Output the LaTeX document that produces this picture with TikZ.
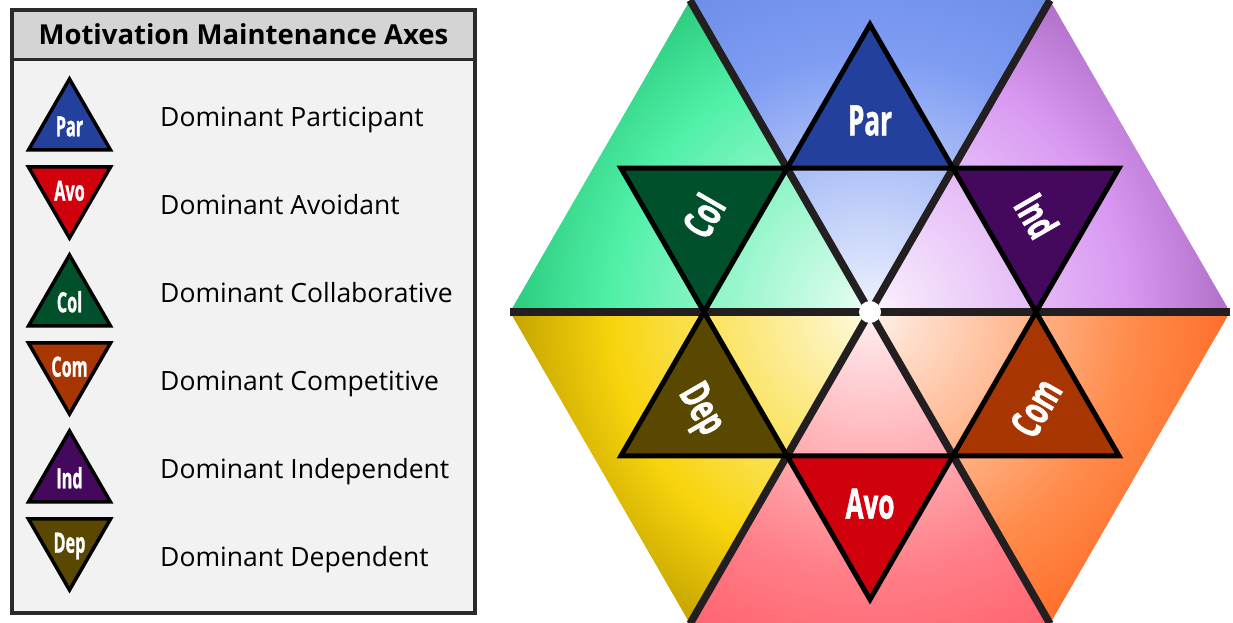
\documentclass[tikz,border=0pt]{standalone}
\usepackage{fontspec}
\setmainfont{Open Sans}
\newfontfamily\tagfont[FakeStretch=0.62,FakeBold=1.2]{Open Sans}
\newfontfamily\keytagfont[FakeStretch=0.58,FakeBold=0.8]{Open Sans}
\usetikzlibrary{calc}

\definecolor{axisgray}{HTML}{231F20}
\definecolor{boxedge}{HTML}{2A2A2A}
\definecolor{keyhead}{HTML}{D4D4D4}
\definecolor{keybody}{HTML}{F1F2F1}
\definecolor{parblue}{HTML}{22409C}
\definecolor{avored}{HTML}{D0000C}
\definecolor{colgreen}{HTML}{00512B}
\definecolor{comrust}{HTML}{A83602}
\definecolor{indpurple}{HTML}{44085C}
\definecolor{depolive}{HTML}{5A4800}
\definecolor{bluemid}{HTML}{7E9CF2}
\definecolor{blueout}{HTML}{6E8EE8}
\definecolor{purplemid}{HTML}{D898F2}
\definecolor{purpleout}{HTML}{B070C8}
\definecolor{orangemid}{HTML}{FF8C4C}
\definecolor{orangeout}{HTML}{FF6E2A}
\definecolor{redmid}{HTML}{FF7F88}
\definecolor{redout}{HTML}{FF6470}
\definecolor{yellowmid}{HTML}{F8D40C}
\definecolor{yellowout}{HTML}{C4A400}
\definecolor{greenmid}{HTML}{50F0A8}
\definecolor{greenout}{HTML}{2CCC7E}

\colorlet{secmid}{white}
\colorlet{secout}{white}
\pgfdeclareradialshading[secmid,secout]{sector}{\pgfpoint{0bp}{0bp}}{%
  color(0bp)=(secmid!10!white); color(3bp)=(secmid!28!white);
  color(12bp)=(secmid!70!white); color(18bp)=(secmid);
  color(25bp)=(secout); color(50bp)=(secout)}

\tikzset{
  axisline/.style={line width=7.5pt, draw=axisgray},
  startri/.style={draw=black, line width=5pt, line join=miter},
  keytri/.style={draw=black, line width=3.5pt, line join=miter},
  bigtag/.style={text=white, inner sep=0pt, text height=30pt, text depth=0pt,
    font=\tagfont\bfseries\fontsize{42}{42}\selectfont},
  smalltag/.style={text=white, inner sep=0pt, text height=20pt, text depth=0pt,
    font=\keytagfont\bfseries\fontsize{28}{28}\selectfont},
  keytext/.style={anchor=base west, inner sep=0pt, font=\fontsize{26.5}{26.5}\selectfont},
}

\begin{document}
\begin{tikzpicture}[x=1pt,y=1pt]
\useasboundingbox (0,0) rectangle (1233,623);
\def\R{360}
\def\r{166}
\coordinate (c) at (870,311);
\foreach \k in {0,...,5}{
  \path (c) ++(\k*60:\R) coordinate (h\k);
  \path (c) ++(\k*60:\r) coordinate (p\k);
  \path (c) ++(\k*60+30:{\r*sqrt(3)}) coordinate (q\k);
}

\foreach \k/\m/\o in {0/purplemid/purpleout,1/bluemid/blueout,2/greenmid/greenout,
  3/yellowmid/yellowout,4/redmid/redout,5/orangemid/orangeout}{
  \pgfmathtruncatemacro\j{mod(\k+1,6)}
  \begin{scope}
  \clip (c) -- (h\k) -- (h\j) -- cycle;
  \colorlet{secmid}{\m}\colorlet{secout}{\o}
  \shade[shading=sector] (c) circle (\R);
  \end{scope}
}

\foreach \k in {0,1,2}{
  \pgfmathtruncatemacro\j{\k+3}
  \draw[axisline] (h\k) -- (h\j);
}

\foreach \k/\n/\col/\rot in {0/Ind/indpurple/-60,1/Par/parblue/0,2/Col/colgreen/60,
  3/Dep/depolive/-60,4/Avo/avored/0,5/Com/comrust/60}{
  \pgfmathtruncatemacro\j{mod(\k+1,6)}
  \filldraw[startri, fill=\col] (p\k) -- (q\k) -- (p\j) -- cycle;
  \node[bigtag, rotate=\rot] (star\n) at ($(c)!2/3!(q\k)$) {\n};
}
\fill[white] (c) circle (11);

\fill[keybody] (12,10) rectangle (475,613);
\fill[keyhead] (12,563) rectangle (475,613);
\draw[line width=3pt, boxedge] (12,563) -- (475,563);
\draw[line width=4pt, boxedge] (12,10) rectangle (475,613);
\node[anchor=base, inner sep=0pt, font=\bfseries\fontsize{27.5}{27.5}\selectfont] (keytitle) at (243.5,578) {Motivation Maintenance Axes};

\foreach \n/\col/\b/\d/\t/\w in {Par/parblue/473/1/496/Participant,Avo/avored/456/-1/408/Avoidant,
  Col/colgreen/297/1/320/Collaborative,Com/comrust/280/-1/232/Competitive,
  Ind/indpurple/121/1/144/Independent,Dep/depolive/104/-1/56/Dependent}{
  \filldraw[keytri, fill=\col] (28.5,\b) -- (110.5,\b) -- (69.5,\b+\d*71) -- cycle;
  \node[smalltag] (key\n) at (69.5,\b+\d*23.7) {\n};
  \node[keytext] (keylabel\n) at (160,\t) {Dominant \w};
}
\end{tikzpicture}
\end{document}
